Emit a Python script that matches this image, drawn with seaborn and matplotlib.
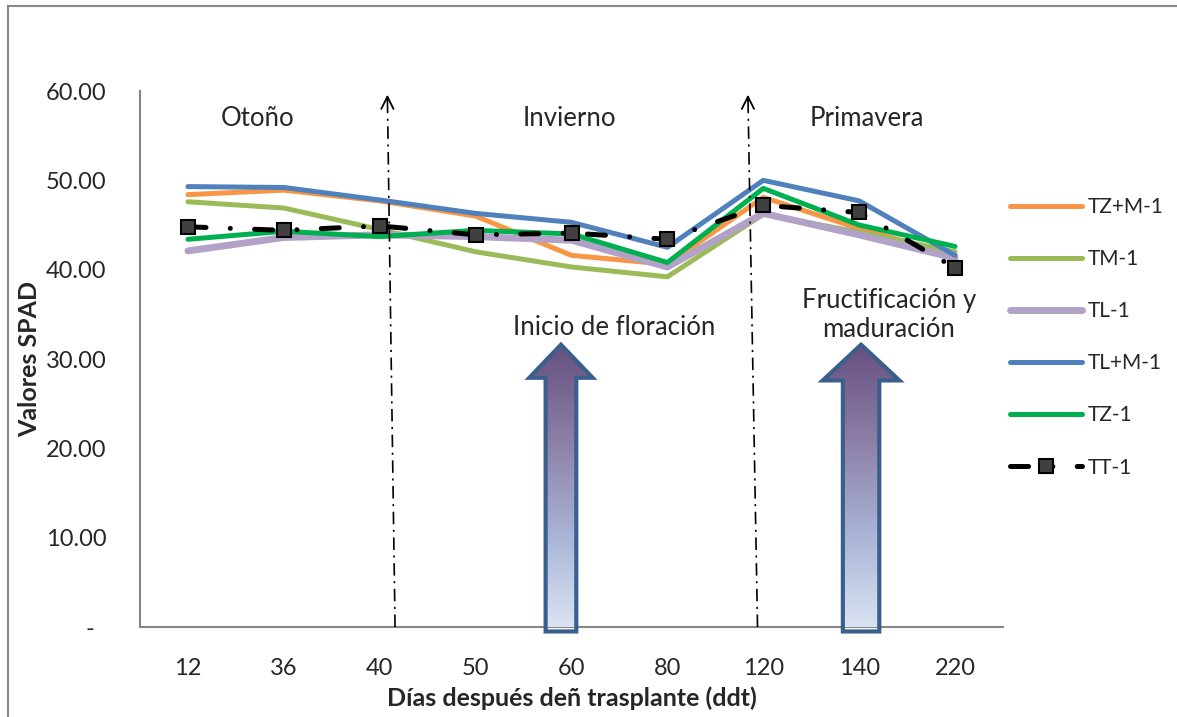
import numpy as np
import pandas as pd
import seaborn as sns
import matplotlib.pyplot as plt
from matplotlib.patches import Polygon, Rectangle
from matplotlib.colors import LinearSegmentedColormap

# Data
categories = ['12', '36', '40', '50', '60', '80', '120', '140', '220']
tzm = [48.4, 48.9, 47.7, 46.0, 41.6, 40.6, 48.1, 44.6, 41.6]
tm = [47.6, 46.9, 44.5, 42.0, 40.3, 39.2, 46.2, 44.2, 42.0]
tl = [42.1, 43.6, 43.9, 43.7, 43.3, 40.3, 46.3, 43.9, 41.3]
tlm = [49.3, 49.2, 47.8, 46.3, 45.3, 42.5, 50.0, 47.7, 41.6]
tz = [43.4, 44.3, 43.7, 44.4, 44.0, 40.8, 49.1, 45.0, 42.6]
tt = [44.8, 44.4, 44.9, 43.9, 44.1, 43.4, 47.2, 46.4, 40.2]

series_names = ['TZ+M-1', 'TM-1', 'TL-1', 'TL+M-1', 'TZ-1', 'TT-1']
series_values = [tzm, tm, tl, tlm, tz, tt]
colors = ['#F79646', '#9BBB59', '#B3A2C7', '#4F81BD', '#00B050', 'black']
widths = [3.6, 3.6, 5.0, 3.6, 3.6, 3.6]

seasons = ['Otoño', 'Invierno', 'Primavera']
stage_labels = ['Inicio de floración', 'Fructificación y\nmaduración']

sns.set_style('white')
plt.rcParams['font.family'] = ['Lato', 'DejaVu Sans']
plt.rcParams['lines.scale_dashes'] = False

fig = plt.figure(figsize=(11.77, 7.17), dpi=100)
ax = fig.add_axes([140 / 1177, 1 - 627 / 717, 863 / 1177, 536 / 717])

pos = np.arange(len(categories))
df = pd.DataFrame({'pos': np.tile(pos, len(series_names)),
                   'serie': np.repeat(series_names, len(categories)),
                   'spad': np.concatenate(series_values)})

for name, col, lw in zip(series_names, colors, widths):
    sub = df[df['serie'] == name]
    if name == 'TT-1':
        sns.lineplot(data=sub, x='pos', y='spad', ax=ax, label=name, color=col,
                     linewidth=lw, linestyle=(0, (13, 17.5, 0.01, 17.5)),
                     dash_capstyle='round', marker='s', markersize=10,
                     markerfacecolor='#404040', markeredgecolor='black',
                     markeredgewidth=1.5, sort=False, zorder=5)
    else:
        sns.lineplot(data=sub, x='pos', y='spad', ax=ax, label=name, color=col,
                     linewidth=lw, solid_capstyle='round', sort=False, zorder=3)

ax.set_xticks(pos)
ax.set_xticklabels(categories)
yt = np.arange(0, 61, 10)
ax.set_yticks(yt)
ax.set_yticklabels(['-  '] + [f'{v:.2f}' for v in yt[1:]])
ax.tick_params(axis='y', length=6, width=1.5, color='#868686', pad=18, labelsize=17)
ax.tick_params(axis='x', length=0, pad=22, labelsize=17)
for s in ['top', 'right']:
    ax.spines[s].set_visible(False)
for s in ['left', 'bottom']:
    ax.spines[s].set_color('#868686')
    ax.spines[s].set_linewidth(1.5)

ax.set_xlabel('Días después deñ trasplante (ddt)', fontsize=18, fontweight='bold')
ax.set_ylabel('Valores SPAD', fontsize=18, fontweight='bold')
ax.xaxis.set_label_coords(0.5, -0.11)
ax.yaxis.set_label_coords(-0.114, 0.5)

# season separators
for xb, xt in [(2.16, 2.08), (5.94, 5.84)]:
    ax.plot([xb, xt], [0, 59.3], color='black', lw=1.2, linestyle=(0, (9, 4, 1.5, 4)), zorder=4)
    ax.annotate('', xy=(xt, 59.9), xytext=(xt, 58.6),
                arrowprops=dict(arrowstyle='->', lw=1.3, color='black', mutation_scale=22))

for txt, x in zip(seasons, [0.73, 3.98, 7.08]):
    ax.text(x, 56.9, txt, ha='center', va='center', fontsize=18.5)

# gradient block arrows
grad = np.linspace(0, 1, 256).reshape(-1, 1)
cmap = LinearSegmentedColormap.from_list('arr', ['#DCE6F5', '#A9B4D6', '#8C7FA6', '#664F7F'])
for xc, hs, hh, top, base in [(categories.index('60') - 0.11, 0.16, 0.33, 31.6, 27.9),
                              (categories.index('140') + 0.02, 0.19, 0.40, 31.6, 27.6)]:
    verts = [(xc - hs, -0.5), (xc + hs, -0.5), (xc + hs, base), (xc + hh, base),
             (xc, top), (xc - hh, base), (xc - hs, base)]
    poly = Polygon(verts, closed=True, facecolor='none', edgecolor='#3B5F8C',
                   linewidth=3, zorder=7, clip_on=False, joinstyle='miter')
    ax.add_patch(poly)
    im = ax.imshow(grad, cmap=cmap, extent=(xc - hh, xc + hh, -0.5, top), origin='lower',
                   aspect='auto', zorder=6)
    im.set_clip_path(poly)
    im.set_clip_box(None)

ax.set_xlim(-0.5, len(categories) - 0.5)
ax.set_ylim(0, 60)

ax.text(4.44, 33.5, stage_labels[0], ha='center', va='center', fontsize=18.5)
ax.text(7.31, 34.9, stage_labels[1], ha='center', va='center', fontsize=18.5, linespacing=1.2)

leg = ax.legend(loc='upper left', bbox_to_anchor=(1.008, 0.802), frameon=False, fontsize=15,
                handlelength=3.45, handletextpad=0.29, labelspacing=1.54, borderaxespad=0,
                borderpad=0)

# outer chart frame
fig.patches.append(Rectangle((8 / 1177, -0.05), 1.1, 1 - 6 / 717 + 0.05, transform=fig.transFigure,
                             fill=False, edgecolor='#888888', linewidth=1.5))

fig.savefig('out.png', dpi=100)
